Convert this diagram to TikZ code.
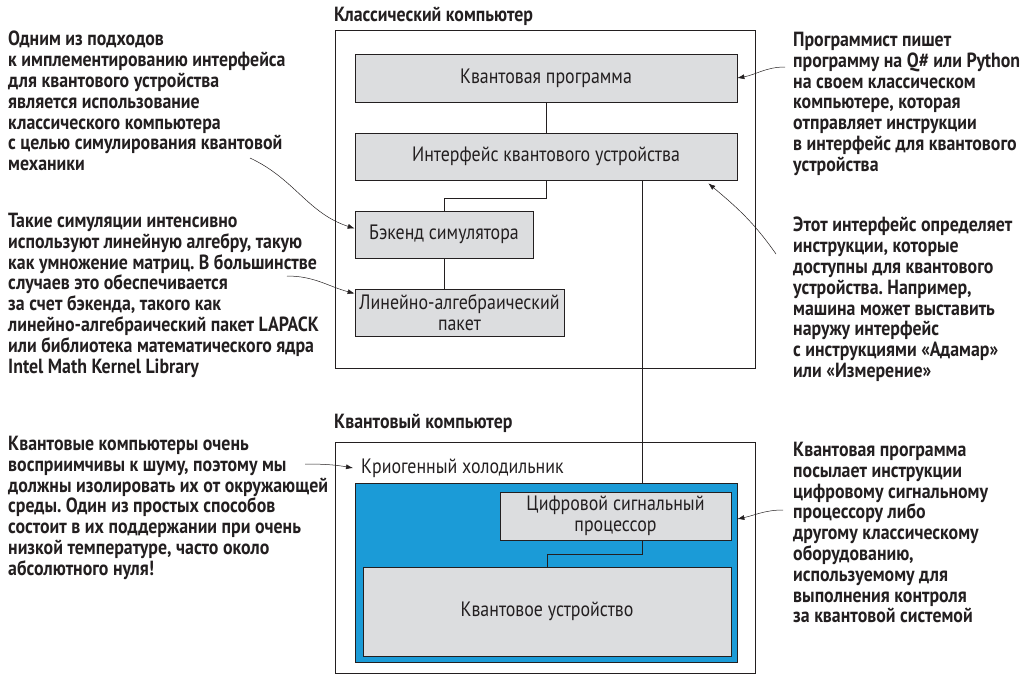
\documentclass[tikz,border=0pt]{standalone}
\usepackage{fontspec}
\setmainfont{PT Sans}
\newfontfamily\notefont[FakeStretch=0.87]{PT Sans}
\newfontfamily\boxfont[FakeStretch=0.86]{PT Sans}
\usetikzlibrary{arrows.meta}
\definecolor{boxgrey}{HTML}{DCDDDF}
\definecolor{fridgeblue}{HTML}{1B9BD7}
\definecolor{inkgrey}{HTML}{231F20}
\frenchspacing

\begin{document}
\begin{tikzpicture}[x=1pt,y=1pt,
  note/.style={anchor=north west, align=left, inner sep=0pt, text=inkgrey,
    font=\notefont\bfseries\fontsize{20.5}{20.8}\selectfont},
  title/.style={anchor=west, inner sep=0pt, text=inkgrey,
    font=\notefont\bfseries\fontsize{20.5}{21}\selectfont},
  frame/.style={draw=inkgrey, line width=0.7pt, inner sep=0pt},
  part/.style={draw=inkgrey, fill=boxgrey, line width=0.7pt, inner sep=0pt,
    align=center, text=inkgrey, font=\boxfont\fontsize{20.8}{21.5}\selectfont},
  link/.style={draw=inkgrey, line width=0.7pt},
  pointer/.style={draw=inkgrey, line width=0.5pt, -{Latex[length=7pt,width=5pt]}}]
\useasboundingbox (0,0) rectangle (1034,-675);

% classical computer
\node[title] (cctitle) at (334,-16) {Классический компьютер};
\node[frame, minimum width=420, minimum height=338] (cc) at (545,-199) {};
\node[part, minimum width=382, minimum height=48] (prog) at (546,-78) {Квантовая программа};
\node[part, minimum width=382, minimum height=47] (iface) at (546,-156.5) {Интерфейс квантового устройства};
\node[part, minimum width=178, minimum height=47] (sim) at (444,-234.5) {Бэкенд симулятора};
\node[part, minimum width=209, minimum height=47] (linalg) at (459.5,-312.5) {Линейно-алгебраический\\пакет};

% quantum computer
\node[title] (qctitle) at (334,-423) {Квантовый компьютер};
\node[frame, minimum width=420, minimum height=231] (qc) at (545,-557.5) {};
\node[anchor=west, inner sep=0pt, text=inkgrey, font=\boxfont\fontsize{20.8}{21.5}\selectfont] (cryo) at (361,-468) {Криогенный холодильник};
\node[frame, fill=fridgeblue, minimum width=382, minimum height=179] (fridge) at (546,-572.5) {};
\node[part, minimum width=231, minimum height=48] (dsp) at (615.5,-516) {Цифровой сигнальный\\процессор};
\node[part, minimum width=368, minimum height=89] (qdev) at (547,-611.5) {Квантовое устройство};

\coordinate (bus) at (642,0);
\draw[link] (prog.south) -- (iface.north);
\draw[link] (iface.south) -- ++(0,-18) -| (sim.north);
\draw[link] (sim.south) -- (sim.south |- linalg.north);
\draw[link] (iface.south -| bus) -- (fridge.north -| bus);
\draw[link] (dsp.south -| bus) -- ++(0,-14) -| (qdev.north);

% notes on the left
\node[note] (note1) at (8,-31) {Одним из подходов\\к имплементированию интерфейса\\для квантового устройства\\является использование\\классического компьютера\\с целью симулирования квантовой\\механики};
\node[note] (note2) at (8,-213) {Такие симуляции интенсивно\\используют линейную алгебру, такую\\как умножение матриц. В большинстве\\случаев это обеспечивается\\за счет бэкенда, такого как\\линейно-алгебраический пакет LAPACK\\или библиотека математического ядра\\Intel Math Kernel Library};
\node[note] (note3) at (8,-436) {Квантовые компьютеры очень\\восприимчивы к шуму, поэтому мы\\должны изолировать их от окружающей\\среды. Один из простых способов\\состоит в их поддержании при очень\\низкой температуре, часто около\\абсолютного нуля!};

% notes on the right
\node[note] (note4) at (793,-32) {Программист пишет\\программу на Q\# или Python\\на своем классическом\\компьютере, которая\\отправляет инструкции\\в интерфейс для квантового\\устройства};
\node[note] (note5) at (793,-217) {Этот интерфейс определяет\\инструкции, которые\\доступны для квантового\\устройства. Например,\\машина может выставить\\наружу интерфейс\\с инструкциями «Адамар»\\или «Измерение»};
\node[note] (note6) at (793,-442) {Квантовая программа\\посылает инструкции\\цифровому сигнальному\\процессору либо\\другому классическому\\оборудованию,\\используемому для\\выполнения контроля\\за квантовой системой};

\coordinate (tail1) at (250,-158);
\coordinate (tail2) at (287,-276);
\coordinate (tail3) at (305,-464);
\coordinate (tail4) at (785,-67);
\coordinate (tail5) at (776,-254);
\coordinate (tail6) at (783,-510);
\draw[pointer] (tail1) to[out=-25,in=162] ([yshift=6pt]sim.west);
\draw[pointer] (tail2) to[out=0,in=165] ([yshift=19pt]linalg.west);
\draw[pointer] (tail3) to[out=0,in=170] ([xshift=-8pt]cryo.west);
\draw[pointer] (tail4) to[out=180,in=10] (prog.east);
\draw[pointer] (tail5) to[out=125,in=-40] ([xshift=-29pt,yshift=-3pt]iface.south east);
\draw[pointer] (tail6) to[out=180,in=12] ([yshift=-3pt]fridge.east |- dsp.east);
\end{tikzpicture}
\end{document}
